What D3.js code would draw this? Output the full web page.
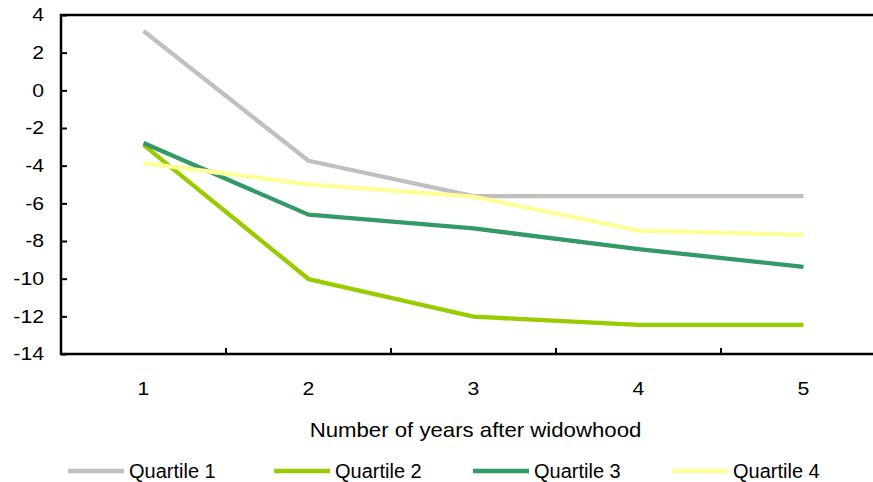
<!DOCTYPE html>
<html>
<head>
<meta charset="utf-8">
<script src="https://cdn.jsdelivr.net/npm/d3@7"></script>
<style>
  body { margin: 0; background: #fff; }
  text { font-family: "Liberation Sans", Arial, sans-serif; fill: #000; }
</style>
</head>
<body>
<div id="chart"></div>
<script>
// data
var years = ["1", "2", "3", "4", "5"];
var seriesNames = ["Quartile 1", "Quartile 2", "Quartile 3", "Quartile 4"];
var quartile1 = [3.15, -3.74, -5.62, -5.62, -5.62];
var quartile2 = [-2.9, -10.02, -12.02, -12.45, -12.45];
var quartile3 = [-2.8, -6.6, -7.33, -8.43, -9.37];
var quartile4 = [-3.86, -4.99, -5.65, -7.45, -7.68];
var yTicks = [4, 2, 0, -2, -4, -6, -8, -10, -12, -14];
var colors = ["#c0c0c0", "#99cc00", "#339966", "#ffff99"];

var svgWidth = 873;
var svgHeight = 482;
var margin = { top: 15, left: 61 };
var plotwidth = 825;
var plotheight = 339;
var stretch = 1.18; // labels in the picture are a little wide

var svg = d3.select("#chart")
  .append("svg")
  .attr("width", svgWidth)
  .attr("height", svgHeight);
var chartGroup = svg.append("g")
  .attr("transform", `translate(${margin.left}, ${margin.top})`);

var x = d3.scaleBand().domain(years).range([0, plotwidth]);
var y = d3.scaleLinear().domain([-14, 4]).range([plotheight, 0]);

// y axis (ticks point inward)
var yaxis = d3.axisLeft(y).tickValues(yTicks).tickSize(-6).tickPadding(17 / stretch);
var yG = chartGroup.append("g").call(yaxis);
yG.select(".domain").remove();
yG.selectAll("line").attr("stroke", "#000").attr("stroke-width", 2);
yG.selectAll("text")
  .style("font-size", "18px")
  .attr("transform", `scale(${stretch},1)`)
  .text(d => d < 0 ? "-" + Math.abs(d) : d);

// x axis: tick marks between categories
var boundaries = years.slice(1).map(d => x(d));
chartGroup.selectAll(".xtick")
  .data(boundaries)
  .enter()
  .append("line")
  .attr("x1", d => d).attr("x2", d => d)
  .attr("y1", plotheight).attr("y2", plotheight - 6)
  .attr("stroke", "#000").attr("stroke-width", 2);

chartGroup.selectAll(".xlabel")
  .data(years)
  .enter()
  .append("text")
  .attr("transform", d => `translate(${x(d) + x.bandwidth() / 2}, ${plotheight + 41}) scale(${stretch},1)`)
  .attr("text-anchor", "middle")
  .style("font-size", "18px")
  .text(d => d);

// frame: left, bottom, top
chartGroup.append("path")
  .attr("d", `M${plotwidth},0H0V${plotheight}H${plotwidth}`)
  .attr("fill", "none")
  .attr("stroke", "#000")
  .attr("stroke-width", 2.5);

// lines
var allSeries = [quartile1, quartile2, quartile3, quartile4];
var line = d3.line()
  .x((d, i) => x(years[i]) + x.bandwidth() / 2)
  .y(d => y(d));

chartGroup.selectAll(".series")
  .data(allSeries)
  .enter()
  .append("path")
  .attr("d", d => line(d))
  .attr("fill", "none")
  .attr("stroke", (d, i) => colors[i])
  .attr("stroke-width", 4.3)
  .attr("stroke-linejoin", "round");

// axis title
svg.append("text")
  .attr("transform", "translate(475.5, 437) scale(1.11,1)")
  .attr("text-anchor", "middle")
  .style("font-size", "20px")
  .text("Number of years after widowhood");

// legend
var legendX = [68, 274, 473, 672];
var legend = svg.selectAll(".legend")
  .data(seriesNames)
  .enter()
  .append("g")
  .attr("transform", (d, i) => `translate(${legendX[i]}, 471)`);
legend.append("line")
  .attr("x1", 0).attr("x2", 56)
  .attr("stroke", (d, i) => colors[i])
  .attr("stroke-width", 4.5);
legend.append("text")
  .attr("x", 61)
  .attr("y", 7)
  .style("font-size", "20px")
  .text(d => d);
</script>
</body>
</html>
